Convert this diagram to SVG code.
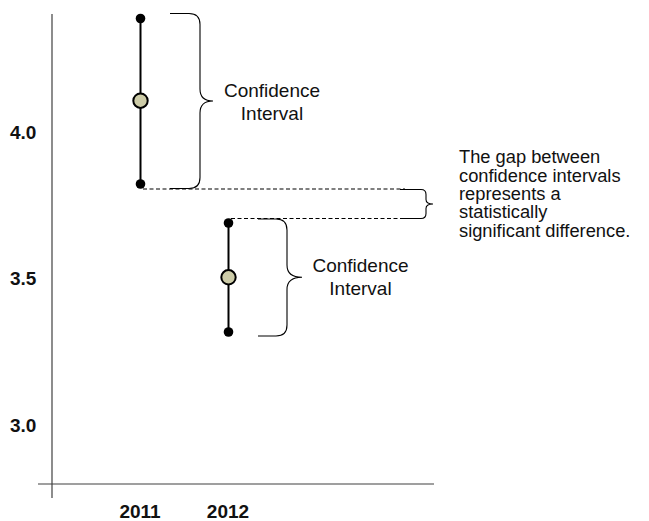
<svg xmlns="http://www.w3.org/2000/svg" width="649" height="521" viewBox="0 0 649 521">
<defs>
<style>
.axis{stroke:#404040;stroke-width:1.2;fill:none}
.ci{stroke:#000;stroke-width:2;fill:none}
.end{fill:#000}
.mean{fill:#cdcca8;stroke:#000;stroke-width:2}
.brace{stroke:#000;stroke-width:1.1;fill:none}
.dash{stroke:#000;stroke-width:1.1;fill:none;stroke-dasharray:4 2.5}
.lbl{font-family:"Liberation Sans",Arial,sans-serif;font-size:19px;fill:#111}
.tick{font-family:"Liberation Sans",Arial,sans-serif;font-size:19px;font-weight:bold;fill:#111}
.note{font-family:"Liberation Sans",Arial,sans-serif;font-size:18.3px;fill:#111}
</style>
</defs>
<rect width="649" height="521" fill="#fff"/>
<g id="axes">
<line class="axis" x1="52" y1="14" x2="52" y2="498"/>
<line class="axis" x1="38" y1="484" x2="434" y2="484"/>
<text class="tick" x="10" y="138.5">4.0</text>
<text class="tick" x="10" y="285">3.5</text>
<text class="tick" x="10" y="432">3.0</text>
<text class="tick" x="140" y="518" text-anchor="middle">2011</text>
<text class="tick" x="228" y="518" text-anchor="middle">2012</text>
</g>
<g id="connectors">
<path class="dash" d="M143,189 H405"/>
<path class="dash" d="M231,218.5 H405"/>
</g>
<g id="ci2011">
<line class="ci" x1="140.5" y1="18.5" x2="140.5" y2="184"/>
<circle class="end" cx="140.5" cy="18.5" r="4.8"/>
<circle class="end" cx="140.5" cy="184" r="4.8"/>
<circle class="mean" cx="140.5" cy="100.7" r="7.2"/>
</g>
<g id="ci2012">
<line class="ci" x1="228.5" y1="223" x2="228.5" y2="332"/>
<circle class="end" cx="228.5" cy="223" r="4.8"/>
<circle class="end" cx="228.5" cy="332" r="4.8"/>
<circle class="mean" cx="228.5" cy="277.3" r="7.2"/>
</g>
<g id="brace2011">
<path class="brace" d="M170,13.5 H189 Q200,13.5 200,24.5 V89 Q200,101 213,101 Q200,101 200,113 V177.5 Q200,188.5 189,188.5 H170"/>
<text class="lbl" x="272" y="96.5" text-anchor="middle">Confidence</text>
<text class="lbl" x="272" y="119.5" text-anchor="middle">Interval</text>
</g>
<g id="brace2012">
<path class="brace" d="M258,219 H276 Q287,219 287,230 V265 Q287,277.3 302,277.3 Q287,277.3 287,289.5 V325 Q287,336 276,336 H258"/>
<text class="lbl" x="360.5" y="272.3" text-anchor="middle">Confidence</text>
<text class="lbl" x="360.5" y="295.3" text-anchor="middle">Interval</text>
</g>
<g id="gap">
<path class="brace" d="M400,189.5 H421 Q426,189.5 426,194.5 V199.5 Q426,204 433,204 Q426,204 426,208.5 V213.5 Q426,218.5 421,218.5 H400"/>
<text class="note" x="459" y="163.3">The gap between</text>
<text class="note" x="459" y="181.6">confidence intervals</text>
<text class="note" x="459" y="199.9">represents a</text>
<text class="note" x="459" y="218.2">statistically</text>
<text class="note" x="459" y="236.5">significant difference.</text>
</g>
</svg>
